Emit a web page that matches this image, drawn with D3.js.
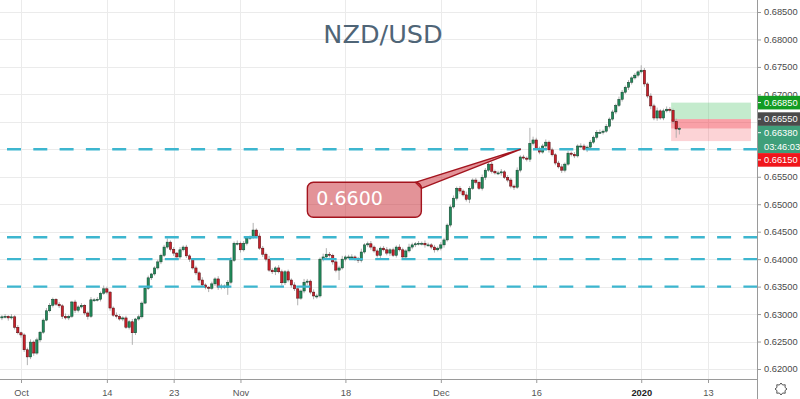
<!DOCTYPE html>
<html><head><meta charset="utf-8">
<script src="https://cdn.jsdelivr.net/npm/d3@7"></script>
<style>html,body{margin:0;padding:0;background:#fff;overflow:hidden}</style>
</head><body><svg id="c" width="800" height="399"></svg>
<script>
// ---------------- data ----------------
const title = "NZD/USD";
const firstOpen = 0.6293;
const closes = [
0.6295,0.6296,0.6293,0.6295,0.6276,0.6266,0.6262,0.6235,0.6222,0.6249,
0.6229,0.6253,0.6267,0.6289,0.6306,0.6316,0.6327,0.6318,0.6315,0.6296,
0.6293,0.6296,0.6322,0.6307,0.6313,0.6316,0.6302,0.6296,0.6326,0.6326,
0.6327,0.6338,0.6346,0.6340,0.6311,0.6298,0.6296,0.6291,0.6293,0.6276,
0.6286,0.6266,0.6291,0.6295,0.6320,0.6347,0.6366,0.6373,0.6384,0.6395,
0.6407,0.6422,0.6431,0.6418,0.6411,0.6404,0.6417,0.6422,0.6406,0.6400,
0.6384,0.6375,0.6362,0.6353,0.6349,0.6347,0.6355,0.6364,0.6349,0.6351,
0.6349,0.6358,0.6398,0.6429,0.6429,0.6417,0.6429,0.6438,0.6440,0.6453,
0.6442,0.6420,0.6409,0.6400,0.6380,0.6377,0.6384,0.6377,0.6357,0.6377,
0.6362,0.6353,0.6346,0.6329,0.6342,0.6358,0.6360,0.6340,0.6333,0.6333,
0.6400,0.6404,0.6409,0.6407,0.6395,0.6380,0.6384,0.6400,0.6404,0.6404,
0.6404,0.6400,0.6398,0.6413,0.6426,0.6428,0.6422,0.6415,0.6407,0.6420,
0.6417,0.6411,0.6417,0.6407,0.6422,0.6417,0.6404,0.6415,0.6422,0.6426,
0.6428,0.6429,0.6429,0.6426,0.6426,0.6422,0.6417,0.6420,0.6426,0.6435,
0.6462,0.6495,0.6511,0.6529,0.6524,0.6517,0.6509,0.6529,0.6544,0.6540,
0.6529,0.6549,0.6562,0.6573,0.6560,0.6557,0.6557,0.6559,0.6549,0.6544,
0.6533,0.6531,0.6562,0.6586,0.6584,0.6582,0.6611,0.6617,0.6602,0.6595,
0.6606,0.6613,0.6599,0.6590,0.6575,0.6568,0.6562,0.6573,0.6593,0.6591,
0.6588,0.6606,0.6606,0.6600,0.6604,0.6613,0.6622,0.6631,0.6631,0.6633,
0.6642,0.6655,0.6668,0.6680,0.6691,0.6704,0.6713,0.6722,0.6730,0.6735,
0.6741,0.6744,0.6719,0.6697,0.6679,0.6657,0.6670,0.6657,0.6670,0.6673,
0.6671,0.6651,0.6637,0.6638];
// wick lengths in pips above / below candle bodies
const wickUp = [
3,4,2,5,3,4,2,3,4,5, 3,4,2,3,5,4,3,2,4,3, 5,3,2,4,3,4,2,3,5,3,
4,3,6,4,2,3,5,4,3,4, 3,5,2,4,3,3,4,2,3,4, 3,4,7,3,4,2,5,3,4,3,
2,4,3,5,3,2,4,3,5,4, 3,4,6,3,5,3,4,4,3,13, 3,5,4,3,6,4,3,5,4,3,
4,3,5,4,3,6,4,3,5,4, 3,6,11,4,3,5,4,6,3,4, 5,3,4,6,3,4,5,3,4,3,
4,5,3,4,3,5,4,3,6,4, 3,4,3,5,4,3,4,3,5,4, 3,4,5,3,4,3,6,4,3,4,
3,5,4,3,4,3,4,5,3,4, 4,3,5,3,4,3,28,6,4,3, 4,5,3,4,3,4,5,3,4,3,
4,3,5,4,3,4,3,4,5,3, 4,3,4,3,5,4,3,4,3,4, 3,9,4,3,5,4,6,3,4,5,
4,3,5,3];
const wickDn = [
4,3,5,3,4,3,5,4,15,4, 5,3,4,3,2,3,4,3,4,5, 3,4,3,5,4,3,4,6,3,4,
3,4,3,4,5,3,4,3,4,3, 4,22,4,3,3,2,3,4,3,3, 4,3,3,4,5,3,4,3,4,5,
3,4,5,3,4,7,3,4,5,4, 3,14,4,3,4,5,3,4,3,3, 4,3,5,4,3,4,6,3,5,4,
4,5,4,13,3,4,5,4,6,5, 3,4,3,4,5,4,18,3,4,3, 4,3,5,4,3,4,5,3,4,5,
3,4,5,3,4,3,5,4,3,4, 4,3,4,5,3,4,5,3,4,5, 3,4,3,4,5,3,4,7,3,4,
3,4,5,3,4,3,4,5,3,4, 4,5,3,4,3,4,5,4,3,4, 3,4,5,3,4,3,5,4,3,4,
4,3,4,3,5,4,3,4,3,4, 3,4,3,4,3,4,3,5,4,3, 4,3,5,4,6,4,5,3,4,3,
4,5,16,10];
const startDate = "2019-09-27";
const endDate = "2020-01-24";
const holidays = ["2019-12-25", "2020-01-01"];
const barsPerDay = 3;
const xTickDates = ["2019-10-01","2019-10-14","2019-10-23","2019-11-01","2019-11-18","2019-12-02","2019-12-16","2020-01-02","2020-01-13"];
const xTickLabels = ["Oct","14","23","Nov","18","Dec","16","2020","13"];
const yTickValues = [0.620,0.625,0.630,0.635,0.640,0.645,0.650,0.655,0.660,0.665,0.670,0.675,0.680,0.685];
const levels = [0.660, 0.644, 0.640, 0.635];
const calloutText = "0.6600";
const calloutPrice = 0.660;
const calloutBar = 163;
const entryPrice = 0.6655, targetPrice = 0.6685, stopPrice = 0.6615;
const positionStartBar = 210.4, positionEndBar = 235.5;
const lastPrice = 0.6638;
const countdown = "03:46:03";

// ---------------- layout ----------------
const W = 800, H = 399;
const plotRight = 757, plotBottom = 379;
const svg = d3.select("#c");
const x = d3.scaleLinear().domain([-0.6, 237.4]).range([0, plotRight]);
const y = d3.scaleLinear().domain([0.62, 0.685]).range([369, 12]);
const fmt = d3.format(".5f");
const axisFont = "Liberation Sans, Arial, sans-serif";

// trading days
const days = [];
{
  const d = new Date(startDate + "T00:00:00Z"), e = new Date(endDate + "T00:00:00Z");
  while (d <= e) {
    const s = d.toISOString().slice(0,10), wd = d.getUTCDay();
    if (wd !== 0 && wd !== 6 && !holidays.includes(s)) days.push(s);
    d.setUTCDate(d.getUTCDate() + 1);
  }
}
const tickBars = xTickDates.map(s => days.indexOf(s) * barsPerDay);

// candles
const candles = closes.map((c, i) => {
  const o = i === 0 ? firstOpen : closes[i-1];
  return {i, o, c, h: Math.max(o,c) + wickUp[i]/10000, l: Math.min(o,c) - wickDn[i]/10000};
});

svg.append("rect").attr("width", W).attr("height", H).attr("fill", "#fff");
svg.append("defs").append("clipPath").attr("id","plot").append("rect")
  .attr("x",0).attr("y",0).attr("width",plotRight).attr("height",plotBottom);

// grid
const grid = svg.append("g").attr("stroke", "#ebebeb").attr("stroke-width", 1);
grid.selectAll("line.h").data(yTickValues).join("line")
  .attr("x1", 0).attr("x2", plotRight)
  .attr("y1", d => Math.round(y(d)) + 0.5).attr("y2", d => Math.round(y(d)) + 0.5);
grid.selectAll("line.v").data(tickBars).join("line")
  .attr("y1", 0).attr("y2", plotBottom)
  .attr("x1", d => Math.round(x(d)) + 0.5).attr("x2", d => Math.round(x(d)) + 0.5);

// position tool boxes
const pos = svg.append("g");
const px0 = x(positionStartBar), px1 = x(positionEndBar);
pos.append("rect").attr("x", px0).attr("width", px1 - px0)
  .attr("y", y(targetPrice)).attr("height", y(entryPrice) - y(targetPrice))
  .attr("fill", "rgba(60,190,90,0.3)");
pos.append("rect").attr("x", px0).attr("width", px1 - px0)
  .attr("y", y(entryPrice)).attr("height", y(stopPrice) - y(entryPrice))
  .attr("fill", "rgba(242,54,69,0.22)");
pos.append("rect").attr("x", px0).attr("width", px1 - px0)
  .attr("y", y(entryPrice)).attr("height", y(lastPrice) - y(entryPrice))
  .attr("fill", "rgba(242,54,69,0.32)");

// candles
const cg = svg.append("g").attr("clip-path", "url(#plot)");
cg.selectAll("line.w").data(candles).join("line")
  .attr("x1", d => x(d.i)).attr("x2", d => x(d.i))
  .attr("y1", d => y(d.h)).attr("y2", d => y(d.l))
  .attr("stroke", "#a8a8a8").attr("stroke-width", 0.9);
const bw = 2.3;
cg.selectAll("rect.b").data(candles).join("rect")
  .attr("x", d => x(d.i) - bw/2).attr("width", bw)
  .attr("y", d => y(Math.max(d.o, d.c)))
  .attr("height", d => Math.max(1, Math.abs(y(d.o) - y(d.c))))
  .attr("fill", d => d.c >= d.o ? "#218a5a" : "#c8202a")
  .attr("stroke", d => d.c >= d.o ? "#123d2a" : "#4e0a0e")
  .attr("stroke-width", 0.5);

// dashed levels
svg.append("g").selectAll("line").data(levels).join("line")
  .attr("x1", 7).attr("x2", plotRight)
  .attr("y1", d => y(d)).attr("y2", d => y(d))
  .attr("stroke", "#3db6cf").attr("stroke-width", 2.4)
  .attr("stroke-dasharray", "14,12.3");

// callout
const tipX = x(calloutBar), tipY = y(calloutPrice);
const bx = tipX - 213, by = tipY + 33, bwid = 114, bh = 35;
const cgp = svg.append("g");
cgp.append("path")
  .attr("d", `M${bx + bwid - 6},${by} L${tipX},${tipY} L${bx + bwid},${by + 6} Z`)
  .attr("fill", "rgba(200,40,50,0.5)").attr("stroke", "#a3141e").attr("stroke-width", 1.4)
  .attr("stroke-linejoin", "round");
cgp.append("rect").attr("x", bx).attr("y", by).attr("width", bwid).attr("height", bh)
  .attr("rx", 6).attr("fill", "rgba(200,40,50,0.5)").attr("stroke", "#a3141e").attr("stroke-width", 1.4);
cgp.append("text").attr("x", bx + 9).attr("y", by + 23)
  .attr("font-family", "DejaVu Sans, sans-serif").attr("font-size", 19).attr("fill", "#fff")
  .text(calloutText);

// title
svg.append("text").attr("x", 383).attr("y", 43).attr("text-anchor", "middle")
  .attr("font-family", "DejaVu Sans, sans-serif").attr("font-size", 25.5)
  .attr("fill", "#4f6577").text(title);

// price badges layout (computed first so covered axis labels can be skipped)
const lineH = 13.6;
const badges = [
  {price: targetPrice, fill: "#129c22", lines: [fmt(targetPrice)]},
  {price: entryPrice, fill: "#4b4b4b", lines: [fmt(entryPrice)]},
  {price: lastPrice, fill: "#3f9f7a", lines: [fmt(lastPrice), countdown]},
  {price: stopPrice, fill: "#f0161b", lines: [fmt(stopPrice)]}
];
let prevBottom = -Infinity;
badges.forEach(b => {
  let top = y(b.price) - lineH/2;
  if (top < prevBottom) top = prevBottom;
  b.top = top;
  b.bottom = top + lineH * b.lines.length;
  prevBottom = b.bottom;
});
const covered = v => badges.some(b => y(v) >= b.top && y(v) <= b.bottom);

// axes
const axisColor = "#9a9a9a";
const ya = svg.append("g").attr("transform", `translate(${plotRight},0)`)
  .call(d3.axisRight(y).tickValues(yTickValues.filter(v => !covered(v))).tickFormat(fmt).tickSize(4).tickPadding(3));
ya.select(".domain").remove();
ya.selectAll("line").attr("stroke", axisColor);
ya.selectAll("text").attr("font-family", axisFont).attr("font-size", 9.3).attr("fill", "#4a4a4a");

const xa = svg.append("g").attr("transform", `translate(0,${plotBottom})`)
  .call(d3.axisBottom(x).tickValues(tickBars).tickFormat((d, i) => xTickLabels[i]).tickSize(4).tickPadding(6));
xa.select(".domain").remove();
xa.selectAll("line").attr("stroke", axisColor);
xa.selectAll("text").attr("font-family", axisFont).attr("font-size", 9.3)
  .attr("fill", (d, i) => xTickLabels[i] === "2020" ? "#222" : "#555")
  .attr("font-weight", (d, i) => xTickLabels[i] === "2020" ? "bold" : "normal");

svg.append("line").attr("x1", 0).attr("x2", plotRight).attr("y1", plotBottom + 0.5).attr("y2", plotBottom + 0.5)
  .attr("stroke", axisColor);
svg.append("line").attr("x1", plotRight + 0.5).attr("x2", plotRight + 0.5).attr("y1", 0).attr("y2", H)
  .attr("stroke", axisColor);

// price badges
const bg = svg.append("g");
badges.forEach(b => {
  bg.append("rect").attr("x", plotRight + 1).attr("y", b.top).attr("width", W - plotRight - 1)
    .attr("height", lineH * b.lines.length).attr("fill", b.fill);
  bg.append("line").attr("x1", plotRight + 1).attr("x2", plotRight + 4)
    .attr("y1", b.top + lineH/2).attr("y2", b.top + lineH/2).attr("stroke", "#fff");
  b.lines.forEach((t, k) => {
    bg.append("text").attr("x", plotRight + 7).attr("y", b.top + lineH * k + lineH/2)
      .attr("dy", "0.35em").attr("font-family", axisFont).attr("font-size", 9.3)
      .attr("fill", "#fff").text(t);
  });
});

// settings gear
const gx = 781, gy = 389;
const gearPts = d3.range(16).map(k => {
  const a = k * Math.PI / 8, r = k % 2 === 0 ? 6 : 4.3;
  return [gx + r * Math.cos(a), gy + r * Math.sin(a)];
});
svg.append("path").attr("d", "M" + gearPts.join("L") + "Z")
  .attr("fill", "none").attr("stroke", "#555").attr("stroke-width", 1).attr("stroke-linejoin", "round");
</script>
</body></html>
